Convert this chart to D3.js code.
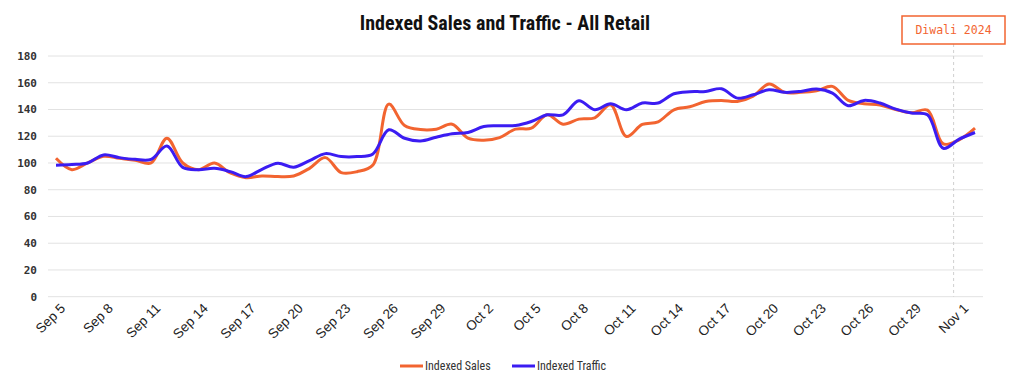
<!DOCTYPE html>
<html>
<head>
<meta charset="utf-8">
<script src="https://cdn.jsdelivr.net/npm/d3@7"></script>
<style>
  body { margin: 0; background: #fff; }
  #main-diagram { width: 1024px; height: 388px; }
</style>
</head>
<body>
<div id="main-diagram"></div>
<script>
// data, one value per day from Sep 5 to Nov 2
const sales = [103.5, 95, 100, 105, 103.5, 102, 100, 118.5, 100, 95,
    100, 92.5, 89, 90.3, 89.8, 90.3, 96, 104, 92.8, 93.5,
    98.5, 144, 128, 125, 125.3, 129, 118.5, 117, 119, 125.3,
    126, 136, 129, 132.8, 133.8, 143.5, 119.8, 128.8, 130.8, 139.8,
    142, 146, 146.8, 146, 150, 159, 152.8, 152.8, 154, 157.3,
    146.8, 144.3, 143.3, 140, 137.5, 139.5, 114.3, 117.3, 126]
const traffic = [98.3, 98.8, 100, 106, 104, 102.7, 102.7, 112.7, 96.7, 95,
    96, 93.5, 89.8, 95.3, 99.8, 96.8, 101.8, 107, 104.8, 104.8,
    106.8, 124.8, 118.5, 116.5, 119.3, 121.8, 122.8, 127.3, 127.8, 128,
    131, 136, 136, 146.5, 139.8, 144.3, 139.8, 144.8, 144.8, 151.8,
    153.3, 153.5, 155.5, 148.5, 151, 154.8, 152.8, 153.5, 155.3, 152.3,
    142.8, 146.8, 144.8, 140.3, 137.3, 136, 111, 117.8, 122.8]
const tickLabels = ['Sep 5', 'Sep 8', 'Sep 11', 'Sep 14', 'Sep 17', 'Sep 20', 'Sep 23',
    'Sep 26', 'Sep 29', 'Oct 2', 'Oct 5', 'Oct 8', 'Oct 11', 'Oct 14', 'Oct 17',
    'Oct 20', 'Oct 23', 'Oct 26', 'Oct 29', 'Nov 1']
const yTicks = [0, 20, 40, 60, 80, 100, 120, 140, 160, 180]
const seriesNames = ['Indexed Sales', 'Indexed Traffic']
const colors = ['#f26430', '#3b1cf2']
const diwaliDay = 56.65   // day offset where the annotation line sits

const width = 1024
const height = 388

const svg = d3.select('#main-diagram')
    .append('svg')
    .attr('width', width)
    .attr('height', height)

const x = d3.scaleLinear().domain([0, sales.length - 1]).range([56, 975])
const y = d3.scaleLinear().domain([0, 180]).range([296.7, 56])
const gridX = [48, 983]

// grid lines + y labels
svg.append('g')
    .selectAll('line')
    .data(yTicks)
    .enter()
    .append('line')
    .attr('x1', gridX[0])
    .attr('x2', gridX[1])
    .attr('y1', d => y(d))
    .attr('y2', d => y(d))
    .attr('stroke', '#e2e2e2')
    .attr('stroke-width', 1)

svg.append('g')
    .selectAll('text')
    .data(yTicks)
    .enter()
    .append('text')
    .attr('x', 37)
    .attr('y', d => y(d))
    .attr('dy', '0.35em')
    .attr('text-anchor', 'end')
    .style('font-family', '"DejaVu Sans Mono", monospace')
    .style('font-weight', 'bold')
    .style('font-size', '11px')
    .style('fill', '#333')
    .text(d => d)

// x labels, every third day
const dayIndex = tickLabels.map((t, i) => i * 3)
svg.append('g')
    .selectAll('text')
    .data(dayIndex)
    .enter()
    .append('text')
    .attr('transform', d => `translate(${x(d) + 3}, ${302}) rotate(-45)`)
    .attr('text-anchor', 'end')
    .attr('dy', '0.75em')
    .style('font-family', '"Liberation Sans", Arial, sans-serif')
    .style('font-size', '13.5px')
    .style('fill', '#222')
    .text((d, i) => tickLabels[i])

// diwali annotation
svg.append('line')
    .attr('x1', x(diwaliDay))
    .attr('x2', x(diwaliDay))
    .attr('y1', 44)
    .attr('y2', y(0))
    .attr('stroke', '#cfcfcf')
    .attr('stroke-dasharray', '3,3')

svg.append('rect')
    .attr('x', 902)
    .attr('y', 16)
    .attr('width', 103)
    .attr('height', 28)
    .attr('fill', '#fff')
    .attr('stroke', '#f26430')
    .attr('stroke-width', 1.5)

svg.append('text')
    .attr('x', 953.5)
    .attr('y', 30)
    .attr('dy', '0.35em')
    .attr('text-anchor', 'middle')
    .style('font-family', '"DejaVu Sans Mono", monospace')
    .style('font-size', '11.5px')
    .style('fill', '#f26430')
    .text('Diwali 2024')

// lines
const line = d3.line()
    .x((d, i) => x(i))
    .y(d => y(d))
    .curve(d3.curveCatmullRom.alpha(0.5))

svg.selectAll('path.series')
    .data([sales, traffic])
    .enter()
    .append('path')
    .attr('class', 'series')
    .attr('d', d => line(d))
    .attr('fill', 'none')
    .attr('stroke', (d, i) => colors[i])
    .attr('stroke-width', 3)
    .attr('stroke-linejoin', 'round')

// title
svg.append('text')
    .attr('x', 505)
    .attr('y', 30)
    .attr('text-anchor', 'middle')
    .style('font-family', '"Liberation Sans Narrow", "Roboto Condensed", Roboto, sans-serif')
    .style('font-weight', 'bold')
    .style('font-size', '20px')
    .style('fill', '#111')
    .text('Indexed Sales and Traffic - All Retail')

// legend
const legendX = [400, 512]
const legend = svg.append('g')
    .selectAll('g')
    .data(seriesNames)
    .enter()
    .append('g')
    .attr('transform', (d, i) => `translate(${legendX[i]}, 366)`)

legend.append('line')
    .attr('x1', 0)
    .attr('x2', 23)
    .attr('stroke', (d, i) => colors[i])
    .attr('stroke-width', 3)

legend.append('text')
    .attr('x', 25)
    .attr('dy', '0.35em')
    .style('font-family', '"Liberation Sans Narrow", "Roboto Condensed", sans-serif')
    .style('font-size', '12px')
    .style('fill', '#333')
    .text(d => d)
</script>
</body>
</html>
